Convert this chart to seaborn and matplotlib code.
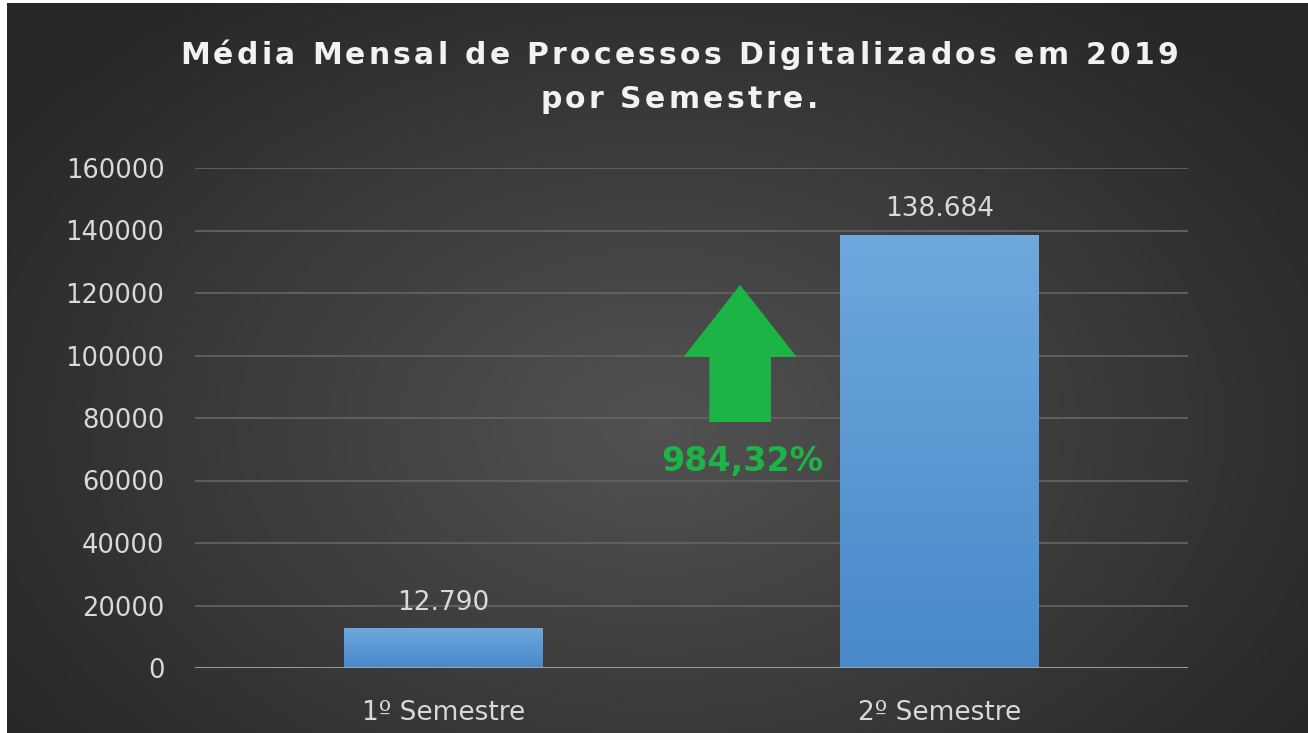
import numpy as np
import pandas as pd
import matplotlib
matplotlib.use("Agg")
import matplotlib.pyplot as plt
import seaborn as sns
from matplotlib.colors import LinearSegmentedColormap
from matplotlib.patches import Polygon
from matplotlib.font_manager import FontProperties

# ---- data ----
categories = ["1º Semestre", "2º Semestre"]
values = [12790, 138684]
title_lines = ["Média Mensal de Processos Digitalizados em 2019", "por Semestre."]
yticks = [0, 20000, 40000, 60000, 80000, 100000, 120000, 140000, 160000]

value_labels = [f"{v:,}".replace(",", ".") for v in values]
growth = (values[1] / values[0] - 1) * 100
growth_label = f"{growth:.2f}".replace(".", ",") + "%"

sns.set_theme(style="dark")
plt.rcParams['font.family'] = ['DejaVu Sans']

W, H, DPI = 1308, 733, 100
fig = plt.figure(figsize=(W / DPI, H / DPI), dpi=DPI, facecolor="white")

# ---- background radial gradient ----
bg = fig.add_axes([7 / W, 0, 1 - 7 / W, (H - 3) / H])
bg.set_axis_off()
yy, xx = np.mgrid[0:1:300j, 0:1:500j]
r = np.sqrt(((xx - 0.5) / 0.62) ** 2 + ((yy - 0.42) / 0.75) ** 2)
r = np.clip(r, 0, 1)
bg_cmap = LinearSegmentedColormap.from_list("bg", ["#525252", "#3c3c3c", "#262626"])
bg.imshow(r, cmap=bg_cmap, aspect="auto", extent=[0, 1, 0, 1], vmin=0, vmax=1, origin="lower")
bg.set_xlim(0, 1)
bg.set_ylim(0, 1)

# ---- main axes ----
ax = fig.add_axes([195 / W, (H - 668) / H, (1188 - 195) / W, 500 / H])
ax.patch.set_alpha(0)
df = pd.DataFrame({"cat": categories, "val": values})
sns.barplot(data=df, x="cat", y="val", color="#5B9BD5", width=0.4, ax=ax,
            saturation=1, linewidth=0, edgecolor="none")
ax.set_xlim(-0.5, 1.5)
ax.set_ylim(0, 160000)
ax.set_yticks(yticks)
ax.set_yticklabels([str(t) for t in yticks])
ax.set_xlabel("")
ax.set_ylabel("")
for s in ax.spines.values():
    s.set_visible(False)
ax.grid(False)
for t in yticks[1:]:
    ax.axhline(t, color="#626262", lw=1.3, zorder=0)
ax.axhline(0, color="#A6A6A6", lw=2, zorder=3)
ax.tick_params(axis="y", length=0, pad=22, labelsize=18.5, labelcolor="#D9D9D9")
ax.tick_params(axis="x", length=0, pad=23, labelsize=19, labelcolor="#D9D9D9")

# gradient bars
bar_cmap = LinearSegmentedColormap.from_list("bar", ["#4889CA", "#6EA8DD"])
grad = np.linspace(0, 1, 256).reshape(-1, 1)
for p in ax.patches:
    p.set_linewidth(0)
    x0, y0 = p.get_x(), p.get_y()
    w, h = p.get_width(), p.get_height()
    im = ax.imshow(grad, cmap=bar_cmap, aspect="auto", origin="lower",
                   extent=[x0, x0 + w, y0, y0 + h], zorder=2)
    im.set_clip_path(p)
    p.set_zorder(1)
ax.set_xlim(-0.5, 1.5)
ax.set_ylim(0, 160000)

ax.bar_label(ax.containers[0], labels=value_labels, padding=9,
             fontsize=19, color="#D9D9D9")

# ---- green arrow annotation (axes coords) ----
arrow_pts = [(0.549, 0.766), (0.606, 0.622), (0.580, 0.622), (0.580, 0.492),
             (0.518, 0.492), (0.518, 0.622), (0.492, 0.622)]
ax.add_patch(Polygon(arrow_pts, closed=True, transform=ax.transAxes,
                     facecolor="#1DB446", edgecolor="none", zorder=4))
ax.text(0.551, 0.412, growth_label, transform=ax.transAxes, ha="center", va="center",
        fontsize=24, fontweight="bold", color="#1DB446", zorder=4)

# ---- title with letter spacing ----
title_size = 21.5
fp = FontProperties(family="DejaVu Sans", weight="bold", size=title_size)
renderer = fig.canvas.get_renderer()


def tw(s):
    return renderer.get_text_width_height_descent(s, fp, ismath=False)[0]


base = tw("xx")


def advances(s):
    return [tw("x" + c + "x") - base for c in s]


adv1 = advances(title_lines[0])
target1 = 998.0
spacing = max(0.0, (target1 - sum(adv1)) / (len(adv1) - 1))
center_x = 679.0
for line, yc in zip(title_lines, [55, 100]):
    adv = advances(line)
    total = sum(adv) + spacing * (len(adv) - 1)
    x = center_x - total / 2
    for c, a in zip(line, adv):
        if c != " ":
            fig.text(x / W, 1 - yc / H, c, ha="left", va="center",
                     fontproperties=fp, color="#F2F2F2")
        x += a + spacing

fig.savefig("out.png", dpi=DPI, facecolor="white")
